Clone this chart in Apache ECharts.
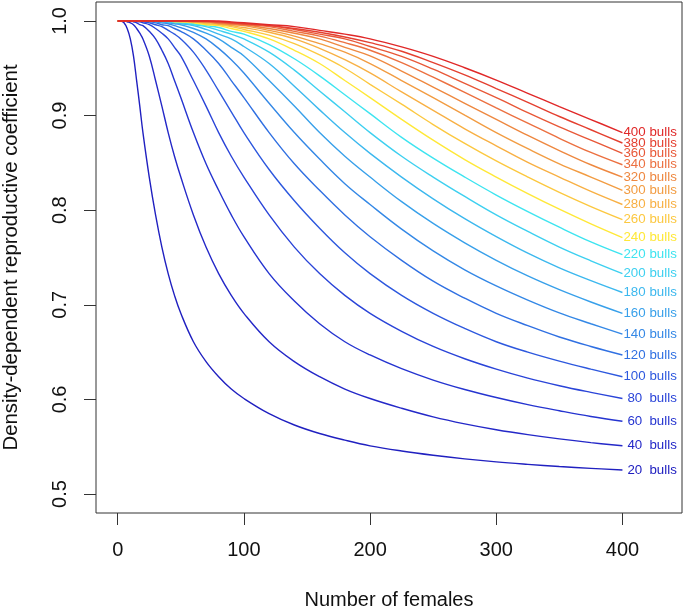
<!DOCTYPE html>
<html><head><meta charset="utf-8">
<script src="https://cdn.jsdelivr.net/npm/echarts@6/dist/echarts.min.js"></script>
<style>html,body{margin:0;padding:0;background:#fff}#c{width:685px;height:610px}</style>
</head><body><div id="c"></div>
<script>
const females = [0,2.5,5,7.5,10,12.5,15,17.5,20,25,30,35,40,45,50,60,70,80,90,100,120,140,160,180,200,225,250,275,300,325,350,375,400];
const bulls = [20,40,60,80,100,120,140,160,180,200,220,240,260,280,300,320,340,360,380,400];
const c20 = [1,1,0.998,0.992,0.981,0.963,0.937,0.910,0.882,0.835,0.795,0.761,0.733,0.710,0.691,0.661,0.640,0.624,0.611,0.601,0.585,0.573,0.564,0.557,0.551,0.5455,0.541,0.5372,0.534,0.5314,0.5291,0.5272,0.5255];
const c40 = [1,1,1,0.999,0.998,0.996,0.992,0.987,0.981,0.963,0.937,0.910,0.882,0.857,0.835,0.795,0.761,0.733,0.710,0.691,0.661,0.640,0.624,0.611,0.601,0.5907,0.5816,0.5742,0.568,0.5628,0.5583,0.5544,0.551];
const c60 = [1,1,1,1,1,0.999,0.998,0.996,0.995,0.989,0.981,0.969,0.955,0.937,0.919,0.882,0.849,0.821,0.795,0.772,0.733,0.704,0.680,0.661,0.647,0.6325,0.6205,0.6105,0.602,0.5945,0.588,0.582,0.577];
const c80 = [1,1,1,1,1,1,0.999,0.999,0.998,0.996,0.992,0.987,0.981,0.972,0.963,0.937,0.910,0.882,0.857,0.835,0.795,0.761,0.733,0.710,0.691,0.672,0.656,0.643,0.632,0.6225,0.6145,0.6075,0.601];
const c100 = [1,1,1,1,1,1,1,1,0.999,0.998,0.996,0.994,0.990,0.986,0.981,0.967,0.948,0.926,0.904,0.882,0.843,0.810,0.781,0.755,0.733,0.710,0.691,0.675,0.661,0.650,0.6405,0.632,0.624];
const c120 = [1,1,1,1,1,1,1,1,1,0.999,0.998,0.996,0.995,0.992,0.989,0.981,0.969,0.955,0.937,0.919,0.882,0.849,0.821,0.795,0.772,0.747,0.725,0.707,0.691,0.678,0.666,0.656,0.647];
const c140 = [1,1,1,1,1,1,1,1,1,1,0.999,0.998,0.997,0.995,0.993,0.988,0.981,0.971,0.959,0.945,0.913,0.882,0.854,0.828,0.806,0.780,0.757,0.737,0.720,0.705,0.6915,0.680,0.669];
const c160 = [1,1,1,1,1,1,1,1,1,1,0.999,0.999,0.998,0.997,0.996,0.992,0.987,0.981,0.972,0.963,0.937,0.910,0.882,0.857,0.835,0.809,0.786,0.7655,0.747,0.7305,0.716,0.703,0.691];
const c180 = [1,1,1,1,1,1,1,1,1,1,1,0.999,0.999,0.998,0.997,0.995,0.991,0.986,0.981,0.973,0.955,0.931,0.906,0.882,0.860,0.835,0.812,0.791,0.772,0.7545,0.739,0.7255,0.713];
const c200 = [1,1,1,1,1,1,1,1,1,1,1,1,0.999,0.999,0.998,0.996,0.994,0.990,0.986,0.981,0.967,0.948,0.926,0.904,0.882,0.857,0.835,0.8145,0.795,0.7775,0.761,0.7465,0.733];
const c220 = [1,1,1,1,1,1,1,1,1,1,1,1,1,0.999,0.999,0.997,0.995,0.993,0.989,0.986,0.975,0.960,0.942,0.922,0.902,0.877,0.855,0.835,0.816,0.7985,0.782,0.7665,0.753];
const c240 = [1,1,1,1,1,1,1,1,1,1,1,1,1,0.999,0.999,0.998,0.996,0.995,0.992,0.989,0.981,0.969,0.955,0.937,0.919,0.896,0.874,0.8535,0.835,0.8175,0.801,0.7855,0.771];
const c260 = [1,1,1,1,1,1,1,1,1,1,1,1,1,1,0.999,0.999,0.997,0.996,0.994,0.991,0.985,0.976,0.964,0.950,0.933,0.912,0.8905,0.8705,0.852,0.835,0.8188,0.8038,0.790];
const c280 = [1,1,1,1,1,1,1,1,1,1,1,1,1,1,1,0.999,0.998,0.997,0.995,0.993,0.988,0.981,0.971,0.959,0.945,0.925,0.9055,0.886,0.868,0.8505,0.835,0.8198,0.806];
const c300 = [1,1,1,1,1,1,1,1,1,1,1,1,1,1,1,0.999,0.999,0.997,0.996,0.995,0.990,0.984,0.976,0.967,0.955,0.937,0.919,0.9005,0.882,0.865,0.849,0.835,0.821];
const c320 = [1,1,1,1,1,1,1,1,1,1,1,1,1,1,1,0.999,0.999,0.998,0.997,0.996,0.992,0.987,0.981,0.972,0.963,0.947,0.930,0.913,0.896,0.879,0.863,0.848,0.835];
const c340 = [1,1,1,1,1,1,1,1,1,1,1,1,1,1,1,1,0.999,0.998,0.997,0.996,0.994,0.989,0.984,0.977,0.969,0.956,0.9405,0.9245,0.908,0.892,0.876,0.861,0.848];
const c360 = [1,1,1,1,1,1,1,1,1,1,1,1,1,1,1,1,1,0.999,0.998,0.997,0.995,0.991,0.986,0.981,0.973,0.9625,0.949,0.934,0.919,0.903,0.888,0.874,0.860];
const c380 = [1,1,1,1,1,1,1,1,1,1,1,1,1,1,1,1,1,0.999,0.998,0.997,0.995,0.992,0.988,0.983,0.977,0.968,0.956,0.943,0.9285,0.914,0.899,0.885,0.871];
const c400 = [1,1,1,1,1,1,1,1,1,1,1,1,1,1,1,1,1,1,0.999,0.998,0.996,0.994,0.990,0.986,0.981,0.9725,0.9625,0.9505,0.9375,0.9235,0.9095,0.8958,0.882];
const colors = ['#2020C0','#2428C8','#2534D0','#2A44D8','#2D58DE','#3070E2','#3488E6','#38A0EA','#3CB8EE','#3ED0F0','#3EE4F0','#FFE838','#FCC840','#F8B044','#F29C42','#EE8840','#EC7040','#E85838','#E44030','#E02828'];
const xTicks = [0,100,200,300,400];
const yTicks = [0.5,0.6,0.7,0.8,0.9,1.0];
const xTitle = 'Number of females';
const yTitle = 'Density-dependent reproductive coefficient';

const curves = [c20,c40,c60,c80,c100,c120,c140,c160,c180,c200,c220,c240,c260,c280,c300,c320,c340,c360,c380,c400];
const FONT = '"Liberation Sans", Arial, sans-serif';

const series = bulls.map((b, i) => ({
  name: b + ' bulls',
  type: 'line',
  symbol: 'none',
  showSymbol: false,
  silent: true,
  animation: false,
  smooth: 0.4,
  data: females.map((x, j) => [x, curves[i][j]]),
  lineStyle: { color: colors[i], width: 1.4 },
  itemStyle: { color: colors[i] },
  endLabel: {
    show: true,
    distance: 1,
    color: colors[i],
    fontSize: 13.3,
    fontFamily: FONT,
    formatter: () => (b < 100 ? '{s|' + b + '}' : '{n|' + b + '}') + '{b|bulls}',
    rich: {
      n: { width: 26, color: colors[i], fontSize: 13.3, fontFamily: FONT },
      s: { width: 22, padding: [0, 0, 0, 4], color: colors[i], fontSize: 13.3, fontFamily: FONT },
      b: { color: colors[i], fontSize: 13.3, fontFamily: FONT }
    }
  }
}));

const chart = echarts.init(document.getElementById('c'), null, { renderer: 'canvas' });
chart.setOption({
  animation: false,
  backgroundColor: '#fff',
  grid: { left: 96, right: 3, top: 2, bottom: 97, show: true, borderColor: '#333', borderWidth: 1, containLabel: false, outerBoundsMode: 'none' },
  xAxis: {
    type: 'value', min: -17.2, max: 447.2,
    name: xTitle, nameLocation: 'middle', nameGap: 77, nameMoveOverlap: false,
    nameTextStyle: { fontSize: 20, color: '#111', fontFamily: FONT },
    axisLine: { show: false, onZero: false },
    splitLine: { show: false },
    axisTick: { show: true, length: 12, inside: false, customValues: xTicks, lineStyle: { color: '#333', width: 1 } },
    axisLabel: { customValues: xTicks, margin: 27, fontSize: 20, color: '#111', fontFamily: FONT }
  },
  yAxis: {
    type: 'value', min: 0.48, max: 1.02,
    name: yTitle, nameLocation: 'middle', nameGap: 75, nameMoveOverlap: false,
    nameTextStyle: { fontSize: 20.4, color: '#111', fontFamily: FONT },
    axisLine: { show: false, onZero: false },
    splitLine: { show: false },
    axisTick: { show: true, length: 12, inside: false, customValues: yTicks, lineStyle: { color: '#333', width: 1 } },
    axisLabel: { customValues: yTicks, margin: 36, rotate: 90, align: 'center', verticalAlign: 'middle', fontSize: 20, color: '#111', fontFamily: FONT, formatter: v => v.toFixed(1) }
  },
  series: series
});
</script></body></html>
